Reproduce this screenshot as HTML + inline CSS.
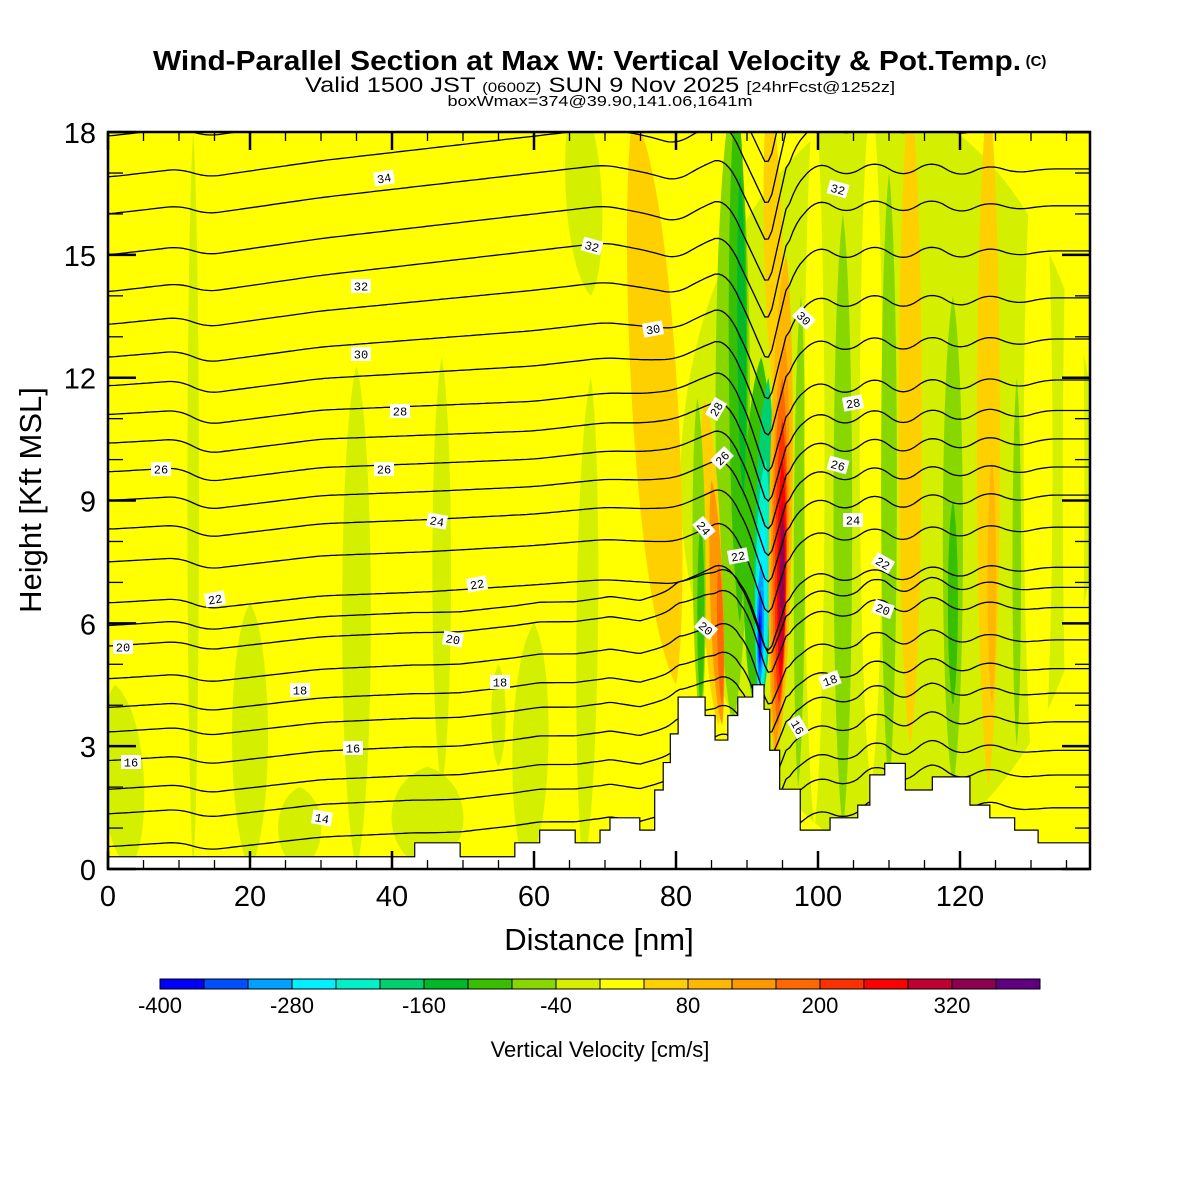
<!DOCTYPE html>
<html><head><meta charset="utf-8"><style>
html,body{margin:0;padding:0;background:#fff;}
svg{display:block;font-family:"Liberation Sans Narrow","Liberation Sans",sans-serif;}
</style></head><body>
<svg id="chart" width="1200" height="1200" viewBox="0 0 1200 1200" xmlns="http://www.w3.org/2000/svg">
<rect width="1200" height="1200" fill="#fff"/>
<text x="587" y="70" text-anchor="middle" font-size="28" font-weight="bold" textLength="868" lengthAdjust="spacingAndGlyphs">Wind-Parallel Section at Max W: Vertical Velocity &amp; Pot.Temp.</text>
<text x="1036" y="66" text-anchor="middle" font-size="15" font-weight="bold">(C)</text>
<text x="600" y="92" text-anchor="middle" font-size="21" textLength="590" lengthAdjust="spacingAndGlyphs">Valid 1500 JST <tspan font-size="14">(0600Z)</tspan> SUN 9 Nov 2025 <tspan font-size="15">[24hrFcst@1252z]</tspan></text>
<text x="600" y="106" text-anchor="middle" font-size="15" textLength="305" lengthAdjust="spacingAndGlyphs">boxWmax=374@39.90,141.06,1641m</text>
<defs><clipPath id="plotclip"><rect x="108" y="132" width="982" height="737"/></clipPath></defs>
<g id="field" clip-path="url(#plotclip)"></g>
<g id="contours" clip-path="url(#plotclip)"></g>
<g id="terrain" clip-path="url(#plotclip)"></g>
<g id="labels"></g>
<g id="axes"></g>
<g id="cbar"></g>
<text x="599" y="950" text-anchor="middle" font-size="31">Distance [nm]</text>
<text transform="translate(41,500) rotate(-90)" text-anchor="middle" font-size="31">Height [Kft MSL]</text>
<text x="600" y="1057" text-anchor="middle" font-size="22">Vertical Velocity [cm/s]</text>
</svg>
<script>
// ---- data ----
const binColors = ["#0000ff","#0050ff","#00a0ff","#00f0ff","#00f0c8","#00d070","#00b828","#38c000","#88d800","#d4f000","#ffff00","#ffd000","#ffb800","#ff9800","#ff6800","#ff3000","#ff0000","#c00030","#900050","#600080"];
const cbarTicks = [-400,-280,-160,-40,80,200,320];
// terrain steps: start nm, height kft
const terrainX = [0,43.2,49.6,57.3,60.8,65.8,69.3,70.7,74.9,77.0,78.2,79.2,80.3,84.1,85.5,87.3,88.7,90.8,92.4,93.2,94.6,97.5,101.7,105.6,107.3,109.4,112.3,116.1,121.4,124.2,127.7,131.0];
const terrainH = [0.3,0.64,0.3,0.64,0.95,0.64,0.95,1.25,0.95,1.93,2.6,3.3,4.2,3.75,3.15,3.75,4.2,4.5,3.9,2.9,1.95,0.95,1.25,1.56,2.3,2.58,1.93,2.25,1.56,1.25,0.95,0.64];
// w features: xBottom, yBottom, xTop, yTop (nm/kft), half-width nm, color bin
const features = [
 [12,0,12,18,0.8,9],[3,0,1,4.5,3,9],[20,0,20,6.5,2.5,9],[35,0,35,12.3,2,9],[47,2,47,12.5,1.3,9],
 [55,2.5,55,5,1,9],[59,0,60,6,2.5,9],[67,0,68,12,1.5,9],[68,14,66,19,2.5,9],[45,0,45,2.5,5,9],[27,0,27,2,3,9],
 [110,0,110,19,29,9],
 [80,4.5,74,18.5,3.2,11],
 [88,3.5,88,19,2.4,8],[89,6,88.5,19,1.3,7],[89.5,9,89,17,0.6,6],
 [86,3.5,84,11.5,1.4,11],[86.5,3.5,85,9.5,0.9,13],[86.5,4,86,7.5,0.45,14],
 [83.5,3.5,83,11.5,0.9,8],[83.5,4,83.5,8.5,0.5,7],
 [91,4,92,12.5,2.0,7],
 [91.8,3.8,93,12,1.3,5],[91.8,4,92.6,10,1.0,4],[91.8,4.3,92.3,8.5,0.7,3],[91.8,4.5,92,7.5,0.5,2],[91.8,4.8,91.9,6.8,0.3,1],[91.8,5,91.8,6.3,0.15,0],
 [94.5,11,93,19,1.3,11],
 [94,2.5,95.5,15,1.6,12],[94,3,95.3,13,1.25,13],[94.3,3.5,95,12,1.0,14],[94.5,4,95,11,0.8,15],[94.7,4.5,95,10,0.6,16],[94.8,5,95,9,0.45,17],[94.9,6,95,8.5,0.3,18],
 [97.2,2,97.6,14,0.8,8],
 [99.5,1,99.5,19,1.4,10],[107.5,2,107.5,19,1.6,10],[113,3,113,19,1.6,11],[124,2,124,19,1.6,11],[124.5,4,124.5,10,0.6,12],[131,1,131,19,2,10],[136,0,136,19,1.5,10],
 [103.5,1,103.5,16,1.3,8],[110,2,110,17,1.1,8],[119,2,119,14,1.4,8],[119,4,119,9,0.7,7],[128,3,128,12,0.6,8]
];
// potential temperature contours
const thetaLevels = [13,14,15,16,17,18,19,20,21,22,23,24,25,26,27,28,29,30,31,32,33,34,35,36];
const thetaBaseH = [0.5,1.3,1.9,2.6,3.3,3.9,4.6,5.4,5.9,6.5,7.5,8.3,9.0,9.7,10.4,11.1,11.8,12.5,13.3,14.1,15.0,16.0,16.9,17.9];
const dispX = [0,10,14,30,45,60,70,76,80,84,87,90,93,96,100,104,108,112,116,120,124,128,132,138.3];
const dispLow = [0,0.1,-0.1,0.2,0.3,0.5,0.6,0.5,0.4,0.7,1.0,0.2,-1.2,0.3,0.8,0.5,0.9,0.5,1.0,0.6,1.0,0.8,0.9,0.9];
const dispMid = [0,0.1,-0.25,0.1,0.2,0.3,0.5,0.5,0.6,0.9,1.1,0.0,-1.6,0.2,0.8,0.4,0.9,0.4,0.9,0.5,0.9,0.6,0.8,0.8];
const dispHigh = [0,0.2,0.0,0.4,0.7,1.0,1.2,1.0,0.8,1.2,1.4,0.3,-0.8,1.5,2.3,1.9,2.3,1.9,2.3,1.9,2.2,2.0,2.1,2.1];
// contour labels: px x, px y, text, angle
const labelX = [384,592,361,653,361,400,161,384,437,477,215,123,453,300,500,353,131,322,716,722,704,738,706,838,804,853,838,853,883,883,830,798];
const labelY = [178,246,286,329,354,411,469,469,521,584,599,647,639,690,682,748,762,818,409,458,528,556,628,189,318,403,465,520,563,609,680,727];
const labelT = ["34","32","32","30","30","28","26","26","24","22","22","20","20","18","18","16","16","14","28","26","24","22","20","32","30","28","26","24","22","20","18","16"];
const labelA = [-10,15,0,-10,0,0,0,0,10,-10,-10,0,10,0,0,0,0,10,-60,-45,50,-10,40,15,45,-10,15,0,30,20,-20,60];

// ---- scales ----
const NS="http://www.w3.org/2000/svg";
const X = nm => 108 + nm*7.1;
const Y = k => 869 - k*40.94;
function mk(tag, attrs, parent){const e=document.createElementNS(NS,tag);for(const k in attrs)e.setAttribute(k,attrs[k]);parent.appendChild(e);return e;}
function interp(xs, ys, x){ if(x<=xs[0])return ys[0]; for(let i=1;i<xs.length;i++){ if(x<=xs[i]){const t=(x-xs[i-1])/(xs[i]-xs[i-1]);return ys[i-1]+t*(ys[i]-ys[i-1]);}} return ys[ys.length-1]; }
const clamp=(v,a,b)=>Math.max(a,Math.min(b,v));
function smoothInterp(xs,ys,x,win){let s=0,n=0;for(let d=-win;d<=win;d+=0.5){s+=interp(xs,ys,x+d);n++;}return s/n;}

// field
const field=document.getElementById('field');
const bg=mk('rect',{x:108,y:132,width:982,height:737,fill:binColors[10]},field);


features.forEach(f=>{
  const [xb,yb,xt,yt,hw,bin]=f;
  const x1=X(xb),y1=Y(yb),x2=X(xt),y2=Y(yt);
  const mx=(x1+x2)/2,w=hw*7.1;
  const d=`M${x1},${y1} C${mx-w*1.35+ (x1-mx)*0.3},${y1-(y1-y2)*0.15} ${mx-w*1.35+(x2-mx)*0.3},${y2+(y1-y2)*0.15} ${x2},${y2} C${mx+w*1.35+(x2-mx)*0.3},${y2+(y1-y2)*0.15} ${mx+w*1.35+(x1-mx)*0.3},${y1-(y1-y2)*0.15} ${x1},${y1}Z`;
  const p=mk('path',{d:d,fill:binColors[bin]},field);
  
  
});

// contours
const cg=document.getElementById('contours');
thetaLevels.forEach((th,i)=>{
  const h0=thetaBaseH[i];
  const wm=clamp((h0-5)/5,0,1), wh=clamp((h0-11)/3,0,1);
  let d='';
  for(let nm=0;nm<=139;nm+=0.5){
    const win=(nm>89&&nm<96)?0.5:1.5;
    const lo=smoothInterp(dispX,dispLow,nm,win), mi=smoothInterp(dispX,dispMid,nm,win), hi=smoothInterp(dispX,dispHigh,nm,win);
    const disp=(lo*(1-wm)+mi*wm)*(1-wh)+hi*wh;
    const th2=interp(terrainX,terrainH,nm)*0.15;
    d+=(nm===0?'M':'L')+X(nm).toFixed(1)+','+Y(h0+disp+th2*(h0<6?1:0)).toFixed(1);
  }
  const p=mk('path',{d:d,fill:'none',stroke:'#000','stroke-width':1.3,'stroke-linejoin':'round'},cg);
  
  
});

// terrain
const tg=document.getElementById('terrain');
let td=`M${X(0)},869`;
terrainX.forEach((x0,i)=>{const x1=i+1<terrainX.length?terrainX[i+1]:139;td+=` L${X(x0)},${Y(terrainH[i])} L${X(x1)},${Y(terrainH[i])}`;});
td+=` L${X(139)},869 Z`;
const tp=mk('path',{d:td,fill:'#fff',stroke:'#000','stroke-width':1.2},tg);



// labels
const lg=document.getElementById('labels');
labelT.forEach((t,i)=>{
  const g=mk('g',{transform:`translate(${labelX[i]},${labelY[i]}) rotate(${labelA[i]})`},lg);
  
  
  mk('rect',{x:-10,y:-7,width:20,height:14,fill:'#fff'},g);
  const tx=mk('text',{x:0,y:4.5,'text-anchor':'middle','font-size':12,'font-family':'Liberation Mono, monospace'},g);
  tx.textContent=t;
});

// axes
const ag=document.getElementById('axes');
const frame=mk('rect',{x:108,y:132,width:982,height:737,fill:'none',stroke:'#000','stroke-width':2.5},ag);


for(let nm=0;nm<=138;nm+=5){
  const major=nm%20===0, L=major?18:9, x=X(nm);
  mk('line',{x1:x,y1:869,x2:x,y2:869-L,stroke:'#000','stroke-width':major?2.5:1.3},ag);
  mk('line',{x1:x,y1:132,x2:x,y2:132+L,stroke:'#000','stroke-width':major?2.5:1.3},ag);
  if(major){const t=mk('text',{x:x,y:906,'text-anchor':'middle','font-size':29},ag);t.textContent=nm;
    
    }
}
for(let k=0;k<=18;k+=1){
  const major=k%3===0, L=major?28:15, y=Y(k);
  mk('line',{x1:108,y1:y,x2:108+L,y2:y,stroke:'#000','stroke-width':major?2.5:1.3},ag);
  mk('line',{x1:1090,y1:y,x2:1090-L,y2:y,stroke:'#000','stroke-width':major?2.5:1.3},ag);
  if(major){const t=mk('text',{x:96,y:y+11,'text-anchor':'end','font-size':29},ag);t.textContent=k;
    
    }
}

// colorbar
const cb=document.getElementById('cbar');
const cbX0=160, cbW=44, cbY=979, cbH=10;
binColors.forEach((c,i)=>{
  const r=mk('rect',{x:cbX0+i*cbW,y:cbY,width:cbW,height:cbH,fill:c,stroke:'#000','stroke-width':1},cb);
  
  
});
cbarTicks.forEach(v=>{
  const x=cbX0+(v+400)/40*cbW;
  const t=mk('text',{x:x,y:1013,'text-anchor':'middle','font-size':22},cb);
  t.textContent=v;
  
  
});
</script>
</body></html>
